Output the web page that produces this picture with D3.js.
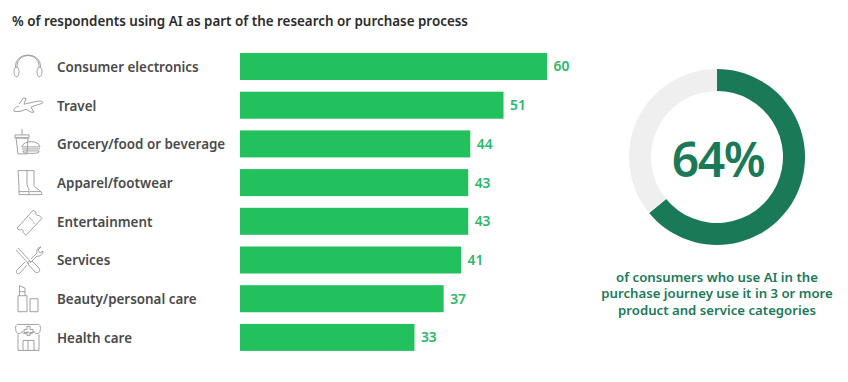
<!DOCTYPE html>
<html>
<head>
<meta charset="utf-8">
<script src="https://cdn.jsdelivr.net/npm/d3@7"></script>
<style>
  html, body { margin: 0; padding: 0; background: #fff; }
  svg { display: block; font-family: "Noto Sans", sans-serif; }
</style>
</head>
<body>
<div id="chart"></div>
<script>
const categories = ["Consumer electronics", "Travel", "Grocery/food or beverage", "Apparel/footwear",
  "Entertainment", "Services", "Beauty/personal care", "Health care"];
// the printed labels
const values = [60, 51, 44, 43, 43, 41, 37, 33];
// the bars in the picture are not quite in proportion to their labels, so lengths are read off separately
const barLengths = [60, 51.5, 45, 44.6, 44.6, 43.2, 39.8, 34.1];
const donutValues = [64, 36];
const titleText = "% of respondents using AI as part of the research or purchase process";
const donutLabel = "64%";
const captionLines = ["of consumers who use AI in the", "purchase journey use it in 3 or more", "product and service categories"];

// line icons, one per category, drawn around the row centre
const icons = [
  "M-11,1V-1A11,10 0 0 1 11,-1V1 M-12.5,1V-1A12.5,10.5 0 0 1 12.5,-1V1 M-14,5C-14,-1 -9,-1 -9,5C-9,12 -14,12 -14,5Z M14,5C14,-1 9,-1 9,5C9,12 14,12 14,5Z",
  "M-14,6C-10,7 -6,6 -2,4L3,7H6L3,2L8,0C12,-1 15,-2 15,-3C13,-5 9,-4 5,-3L-4,-1L-2,-7H-5L-9,-1 M-14,6C-15,4 -13,2 -9,1",
  "M-12,-6H0L-1,10H-10Z M-13,-9H1V-6H-13Z M-6,-9V-15 M-6,3C-5,-4 11,-4 12,3Z M-6,5H12 M-5,7V8C-5,10 11,10 11,8V7Z",
  "M-10,-12H-1V2C-1,4 1,5 1,8V12H-9V4Z M-1,-12H6V3C7,6 14,7 14,12H1 M-9,9H1 M2,9H13",
  "M-11,7L5,-11L8,-9C7,-7 9,-5 11,-6L14,-3L-2,14L-5,11C-4,9 -6,7 -8,9Z M1,-4L5,0 M5,1L7,3",
  "M-10,-12L3,2 M-12,-10L1,4 M2,1C0,1 -1,3 0,4L7,12C10,14 13,11 11,8L4,1 M3,-1L9,-7C8,-10 10,-13 13,-13L10,-10L12,-7L15,-9C15,-6 12,-3 9,-4L2,3 M-3,2L-11,10C-13,13 -10,15 -8,13L-1,5",
  "M-10,-3H-1V13H-10Z M-8.5,-3V-7H-3V-3 M-8.5,-7V-13L-3,-10.5V-7 M2,0H10V13H2Z",
  "M-12,-6C-13,-11 -12,-13 -10,-13H10C12,-13 13,-11 12,-6C11,-3 7,-3 6,-6C5,-3 1,-3 0,-6C-1,-3 -5,-3 -6,-6C-7,-3 -11,-3 -12,-6Z M-10,-3V13H11V-3 M-5,13V3H6V13 M0,3V13 M-1,-11H2V-8H5V-5H2V-2H-1V-5H-4V-8H-1Z"
];

const width = 848, height = 382;
const barColor = "#22c15e", valueColor = "#2bb86a", darkGreen = "#1a7a58", restColor = "#efefef", textColor = "#4a4a4a";

const svg = d3.select("#chart").append("svg")
    .attr("width", width)
    .attr("height", height)
    .attr("viewBox", [0, 0, width, height]);

svg.append("text")
    .attr("x", 12)
    .attr("y", 26)
    .attr("font-size", 13.4)
    .attr("font-weight", 600)
    .attr("fill", "#2b2b2b")
    .text(titleText);

// bars
const x = d3.scaleLinear().domain([0, 60]).range([240, 547]);
const y = d3.scaleBand().domain(categories).range([47.16, 356.76]).paddingInner(0.302).paddingOuter(0.151);

const row = svg.append("g")
  .selectAll("g")
  .data(categories)
  .join("g");

row.append("rect")
    .attr("x", x(0))
    .attr("y", d => y(d))
    .attr("width", (d, i) => x(barLengths[i]) - x(0))
    .attr("height", y.bandwidth())
    .attr("fill", barColor);

row.append("text")
    .attr("x", 57)
    .attr("y", d => y(d) + y.bandwidth() / 2)
    .attr("dy", "0.4em")
    .attr("font-size", 13.4)
    .attr("font-weight", 600)
    .attr("fill", textColor)
    .text(d => d);

row.append("text")
    .attr("x", (d, i) => x(barLengths[i]) + 6.5)
    .attr("y", d => y(d) + y.bandwidth() / 2)
    .attr("dy", "0.36em")
    .attr("font-size", 13.8)
    .attr("font-weight", 600)
    .attr("fill", valueColor)
    .text((d, i) => values[i]);

row.append("path")
    .attr("transform", d => `translate(28,${y(d) + y.bandwidth() / 2})`)
    .attr("fill", "none")
    .attr("stroke", "#969696")
    .attr("stroke-width", 0.9)
    .attr("d", (d, i) => icons[i]);

// donut
const pie = d3.pie().sort(null);
const arc = d3.arc().innerRadius(66).outerRadius(88);
const donut = svg.append("g").attr("transform", "translate(717,157)");

donut.selectAll("path")
  .data(pie(donutValues))
  .join("path")
    .attr("d", arc)
    .attr("fill", (d, i) => i === 0 ? darkGreen : restColor);

donut.append("text")
    .attr("x", 1)
    .attr("y", 20)
    .attr("text-anchor", "middle")
    .attr("font-size", 48)
    .attr("font-weight", 600)
    .attr("letter-spacing", -1.5)
    .attr("fill", darkGreen)
    .text(donutLabel);

svg.append("g")
  .selectAll("text")
  .data(captionLines)
  .join("text")
    .attr("x", 717)
    .attr("y", (d, i) => 281.5 + i * 16.5)
    .attr("text-anchor", "middle")
    .attr("font-size", 13.2)
    .attr("font-weight", 600)
    .attr("fill", darkGreen)
    .text(d => d);
</script>
</body>
</html>
